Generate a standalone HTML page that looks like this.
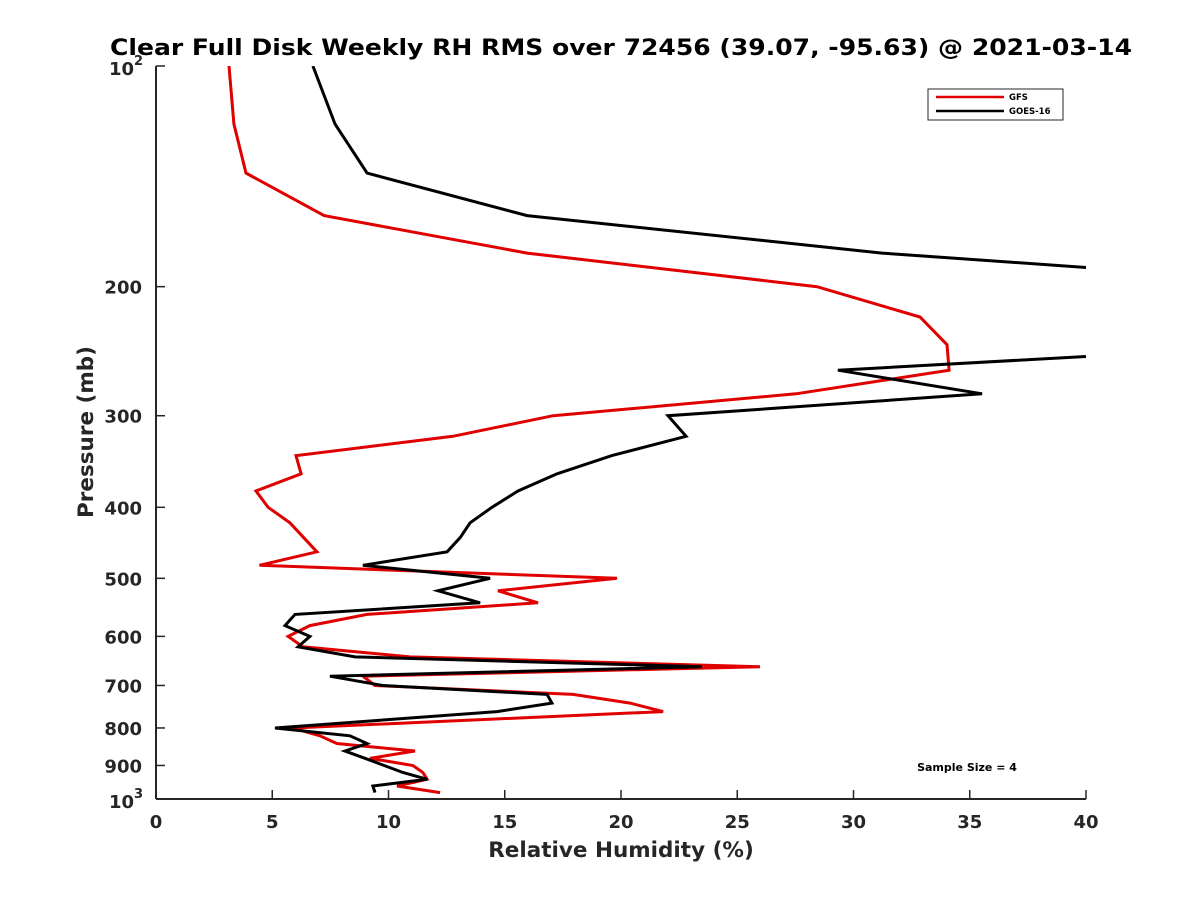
<!DOCTYPE html>
<html><head><meta charset="utf-8"><style>
body{margin:0;background:#fff;}
svg text{font-family:"DejaVu Sans","Liberation Sans",sans-serif;font-weight:bold;fill:#262626;}
</style></head><body>
<svg id="chart" width="1200" height="900" viewBox="0 0 1200 900" xmlns="http://www.w3.org/2000/svg">
<rect width="1200" height="900" fill="#fff"/>
<defs><clipPath id="clip"><rect x="156" y="66" width="930" height="733"/></clipPath></defs>
<text x="621" y="55" text-anchor="middle" font-size="22" textLength="1022" lengthAdjust="spacingAndGlyphs" style="fill:#000">Clear Full Disk Weekly RH RMS over 72456 (39.07, -95.63) @ 2021-03-14</text>
<g id="axes"></g>
<g id="series" clip-path="url(#clip)"></g>
<text x="621" y="857" text-anchor="middle" font-size="21.5">Relative Humidity (%)</text>
<text transform="translate(93,432) rotate(-90)" text-anchor="middle" font-size="21.5">Pressure (mb)</text>
<text x="967" y="771" text-anchor="middle" font-size="11" style="fill:#000">Sample Size = 4</text>
<g>
<rect x="928" y="89" width="135" height="31" fill="#fff" stroke="#262626" stroke-width="1"/>
<g><line x1="936" y1="97" x2="1004" y2="97" stroke="#e00000" stroke-width="2.5"/><text x="1009" y="100" font-size="8.5" style="fill:#000">GFS</text></g>
<g><line x1="936" y1="111" x2="1004" y2="111" stroke="#000" stroke-width="2.5"/><text x="1009" y="114" font-size="8.5" style="fill:#000">GOES-16</text></g>
</g>
</svg>
<script>
const gfsP=[100,120,140,160,180,200,220,240,260,280,300,320,340,360,380,400,420,460,480,500,520,540,560,580,600,620,640,660,680,700,720,740,760,800,820,840,860,880,900,920,940,960,980];
const gfsRH=[3.14,3.35,3.87,7.23,15.96,28.43,32.86,34.02,34.11,27.53,17.08,12.77,6.02,6.24,4.30,4.82,5.76,6.92,4.45,19.83,14.71,16.43,9.08,6.62,5.68,6.32,10.92,25.98,8.90,9.42,17.94,20.39,21.81,5.89,7.05,7.78,11.14,9.20,11.05,11.48,11.66,10.37,12.22];
const goesP=[100,120,140,160,180,200,220,240,260,280,300,320,340,360,380,400,420,440,460,480,500,520,540,560,580,600,620,640,660,680,700,720,740,760,800,820,840,860,880,920,940,960,980];
const goesRH=[6.75,7.70,9.08,15.96,31.23,51.7,50,49.2,29.33,35.53,22.02,22.80,19.61,17.25,15.57,14.45,13.51,13.08,12.52,8.90,14.37,12.13,13.94,5.98,5.55,6.62,6.11,8.56,23.48,7.48,9.76,16.82,17.03,14.67,5.12,8.34,9.08,8.13,8.99,10.62,11.66,9.33,9.42];
const xTicks=[0,5,10,15,20,25,30,35,40];
const yTicks=[100,200,300,400,500,600,700,800,900,1000];
const yLabels=["10^2","200","300","400","500","600","700","800","900","10^3"];
const NS="http://www.w3.org/2000/svg";
const L=156,R=1086,T=66,B=799;
const xs=v=>L+(v-0)/(40-0)*(R-L);
const ys=p=>T+(Math.log10(p)-2)*(B-T);
function mk(tag,attrs,parent){const e=document.createElementNS(NS,tag);for(const k in attrs)e.setAttribute(k,attrs[k]);parent.appendChild(e);return e;}
const ax=document.getElementById('axes');
const xl=mk('line',{x1:L,y1:B,x2:R,y2:B,stroke:'#262626','stroke-width':2},ax);


const yl=mk('line',{x1:L,y1:T,x2:L,y2:B,stroke:'#262626','stroke-width':2},ax);


xTicks.forEach(v=>{
  const t=mk('line',{x1:xs(v),y1:B,x2:xs(v),y2:B-9,stroke:'#262626','stroke-width':1.5},ax);
  
  
  const tx=mk('text',{x:xs(v),y:B+29,'text-anchor':'middle','font-size':18},ax);
  tx.textContent=v;
  
  
});
yTicks.forEach((p,i)=>{
  const t=mk('line',{x1:L,y1:ys(p),x2:L+9,y2:ys(p),stroke:'#262626','stroke-width':1.5},ax);
  
  
  const lab=yLabels[i];
  if(lab.indexOf('^')>=0){
    const parts=lab.split('^');
    const tx=mk('text',{x:L-22,y:ys(p)+9,'text-anchor':'end','font-size':18},ax);
    tx.textContent=parts[0];
    
    
    const sp=mk('text',{x:L-13,y:ys(p)-1,'text-anchor':'end','font-size':13},ax);
    sp.textContent=parts[1];
    
    
  } else {
    const tx=mk('text',{x:L-14,y:ys(p)+7,'text-anchor':'end','font-size':18},ax);
    tx.textContent=lab;
    
    
  }
});
const sg=document.getElementById('series');
function line(P,V,color,name){
  const d=P.map((p,i)=>(i?'L':'M')+xs(V[i]).toFixed(1)+','+ys(p).toFixed(1)).join(' ');
  const e=mk('path',{d:d,fill:'none',stroke:color,'stroke-width':3,'stroke-linejoin':'miter'},sg);
  
  
}
line(gfsP,gfsRH,'#e00000','gfs-line');
line(goesP,goesRH,'#000000','goes16-line');
</script>
</body></html>
